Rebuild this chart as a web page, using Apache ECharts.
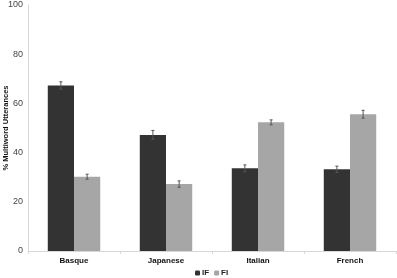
<!DOCTYPE html>
<html><head><meta charset="utf-8">
<script src="https://cdn.jsdelivr.net/npm/echarts@6/dist/echarts.min.js"></script>
<style>html,body{margin:0;padding:0;background:#fff}#c{width:397px;height:278px}</style>
</head><body><div id="c"></div>
<script>
const categories = ['Basque', 'Japanese', 'Italian', 'French'];
const ifValues = [67.3, 47.2, 33.6, 33.2];
const fiValues = [30.2, 27.2, 52.3, 55.6];
const ifErrors = [1.5, 1.8, 1.4, 1.3];
const fiErrors = [1.0, 1.3, 1.0, 1.6];
const yTicks = [0, 20, 40, 60, 80, 100];

const catGap = 0.43;
function errSeries(name, vals, errs, side) {
  return {
    type: 'custom', name: name + '_err', z: 10, silent: true,
    data: vals.map((v, i) => [i, v - errs[i], v + errs[i]]),
    renderItem: function (params, api) {
      const band = api.size([1, 0])[0];
      const bw = band * (1 - catGap) / 2;
      const lo = api.coord([api.value(0), api.value(1)]);
      const hi = api.coord([api.value(0), api.value(2)]);
      const x = lo[0] + side * bw / 2;
      const cap = 1.5;
      const st = { stroke: '#555', lineWidth: 1 };
      return { type: 'group', children: [
        { type: 'line', shape: { x1: x, y1: lo[1], x2: x, y2: hi[1] }, style: st },
        { type: 'line', shape: { x1: x - cap, y1: lo[1], x2: x + cap, y2: lo[1] }, style: st },
        { type: 'line', shape: { x1: x - cap, y1: hi[1], x2: x + cap, y2: hi[1] }, style: st }
      ]};
    }
  };
}

const chart = echarts.init(document.getElementById('c'));
chart.setOption({
  animation: false,
  textStyle: { fontFamily: 'Liberation Sans, Arial, sans-serif' },
  grid: { left: 28, right: 1, top: 5, bottom: 27, containLabel: false, outerBoundsMode: 'none' },
  legend: {
    bottom: 1, left: 195, padding: 0, itemWidth: 5, itemHeight: 5, itemGap: 5,
    data: ['IF', 'FI'],
    textStyle: { fontSize: 8, fontWeight: 'bold', color: '#222', padding: [0, 0, 0, -3] }
  },
  xAxis: {
    type: 'category', data: categories,
    axisLine: { lineStyle: { color: '#d8d8d8' } },
    axisTick: { show: true, length: 3, lineStyle: { color: '#d8d8d8' } },
    axisLabel: { fontSize: 8, fontWeight: 'bold', color: '#111', margin: 6 }
  },
  yAxis: {
    type: 'value', min: 0, max: 100, interval: 20,
    name: '% Multiword Utterances', nameLocation: 'middle', nameGap: 18, nameRotate: 90,
    nameMoveOverlap: false,
    nameTextStyle: { fontSize: 7.5, fontWeight: 'bold', color: '#111' },
    axisLine: { show: true, lineStyle: { color: '#d8d8d8' } },
    axisTick: { show: false },
    splitLine: { show: false },
    axisLabel: { fontSize: 9, color: '#444', margin: 5,
      formatter: v => yTicks.includes(v) ? String(v) : '' }
  },
  series: [
    { name: 'IF', type: 'bar', data: ifValues, barGap: '0%', barCategoryGap: '43%',
      itemStyle: { color: '#333333' } },
    { name: 'FI', type: 'bar', data: fiValues, barGap: '0%', barCategoryGap: '43%',
      itemStyle: { color: '#a6a6a6' } },
    errSeries('IF', ifValues, ifErrors, -1),
    errSeries('FI', fiValues, fiErrors, 1)
  ]
});
</script></body></html>
